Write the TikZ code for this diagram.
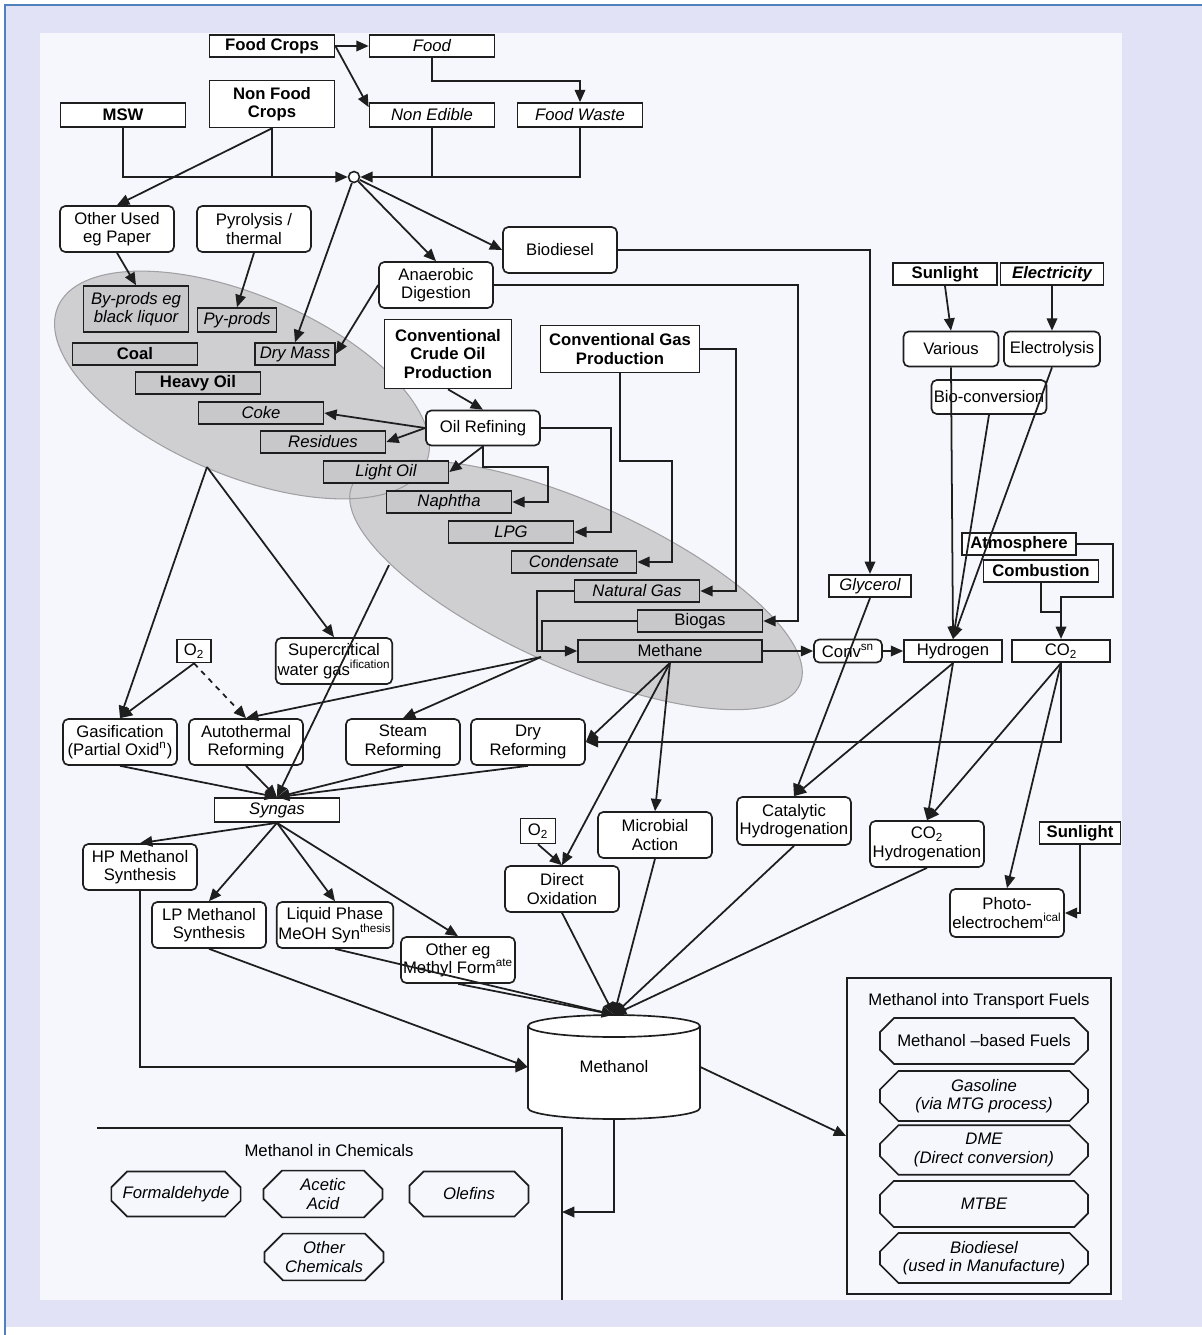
\documentclass[tikz,border=0pt]{standalone}
\usepackage{fontspec}
\setmainfont{Liberation Sans}
\usepackage{tikz}
\usetikzlibrary{arrows.meta, shapes.misc, calc}
\definecolor{framelav}{RGB}{226,226,246}
\definecolor{frameblue}{RGB}{79,129,189}
\definecolor{panelbg}{RGB}{246,247,252}
\definecolor{ellgray}{RGB}{207,207,209}
\definecolor{ellline}{RGB}{160,160,162}
\definecolor{stockgray}{RGB}{200,200,202}
\definecolor{inkgray}{RGB}{30,30,30}
\newcommand{\diafont}{\fontsize{9.5}{10.6}\selectfont}

\tikzset{
  diabox/.style={draw=inkgray, line width=0.95pt, inner sep=1pt, align=center, font=\diafont},
  feedbox/.style={diabox, rectangle, fill=white, minimum width=2.5cm, minimum height=0.45cm},
  stockbox/.style={diabox, rectangle, fill=stockgray, minimum width=2.5cm, minimum height=0.44cm},
  procbox/.style={diabox, rounded corners=3pt, fill=white, minimum width=2.28cm, minimum height=0.92cm},
  prodbox/.style={diabox, chamfered rectangle, chamfered rectangle xsep=7pt, fill=panelbg, minimum height=0.92cm},
  flow/.style={draw=inkgray, line width=1pt, -{Triangle[length=7pt,width=6pt]}},
  link/.style={draw=inkgray, line width=1pt},
}

\begin{document}
\begin{tikzpicture}[x=0.02cm, y=-0.02cm]
    \useasboundingbox (0,0) rectangle (1202,1335);

    % Frame
    \fill[framelav] (5,5) rectangle (1202,1327);
    \draw[frameblue, line width=1pt] (5,1335) -- (5,5) -- (1202,5);
    \fill[panelbg] (40,33) rectangle (1122,1300);

    % Carbon pools
    \fill[ellgray, rotate around={-23:(242,385)}] (242,385) ellipse [x radius=200, y radius=90];
    \fill[ellgray, rotate around={-24:(576,585)}] (576,585) ellipse [x radius=245, y radius=82];
    \draw[ellline, line width=0.6pt, rotate around={-23:(242,385)}] (242,385) ellipse [x radius=200, y radius=90];
    \draw[ellline, line width=0.6pt, rotate around={-24:(576,585)}] (576,585) ellipse [x radius=245, y radius=82];
    \coordinate (poolone) at (207,467);
    \coordinate (pooltwoa) at (389,565);
    \coordinate (pooltwob) at (541,657);

    % Sources
    \node[feedbox, font=\diafont\bfseries] (fcrops) at (272,46) {Food Crops};
    \node[feedbox, font=\diafont\itshape] (food) at (432,46) {Food};
    \node[feedbox, font=\diafont\bfseries, minimum height=0.94cm] (nfcrops) at (272,104) {Non Food\\Crops};
    \node[feedbox, font=\diafont\bfseries, minimum height=0.48cm] (msw) at (123,115) {MSW};
    \node[feedbox, font=\diafont\itshape, minimum height=0.48cm] (nonedible) at (432,115) {Non Edible};
    \node[feedbox, font=\diafont\itshape, minimum height=0.48cm] (foodwaste) at (580,115) {Food Waste};
    \node[circle, draw=inkgray, line width=0.9pt, fill=white, inner sep=0pt, minimum size=0.22cm] (hub) at (354,177) {};

    % First conversion
    \node[procbox] (otherused) at (117,229) {Other Used\\eg Paper};
    \node[procbox] (pyro) at (254,229) {Pyrolysis /\\thermal};
    \node[procbox] (biodiesel) at (560,250) {Biodiesel};
    \node[procbox] (anaerobic) at (436,285) {Anaerobic\\Digestion};

    % Carbon stocks
    \node[stockbox, font=\diafont\itshape, minimum width=2.1cm, minimum height=0.92cm] (byprods) at (136,309) {By-prods eg\\black liquor};
    \node[stockbox, font=\diafont\itshape, minimum width=1.58cm, minimum height=0.48cm] (pyprods) at (237,320) {Py-prods};
    \node[stockbox, font=\diafont\bfseries] (coal) at (135,354) {Coal};
    \node[stockbox, font=\diafont\itshape, minimum width=1.6cm] (drymass) at (295,354) {Dry Mass};
    \node[stockbox, font=\diafont\bfseries] (heavyoil) at (198,383) {Heavy Oil};
    \node[stockbox, font=\diafont\itshape] (coke) at (261,413) {Coke};
    \node[stockbox, font=\diafont\itshape] (residues) at (323,442) {Residues};
    \node[stockbox, font=\diafont\itshape] (lightoil) at (386,472) {Light Oil};
    \node[stockbox, font=\diafont\itshape] (naphtha) at (449,502) {Naphtha};
    \node[stockbox, font=\diafont\itshape] (lpg) at (511,532) {LPG};
    \node[stockbox, font=\diafont\itshape] (condensate) at (574,562) {Condensate};
    \node[stockbox, font=\diafont\itshape] (natgas) at (637,591) {Natural Gas};
    \node[stockbox] (biogas) at (700,621) {Biogas};
    \node[stockbox, minimum width=3.68cm] (methane) at (670,651) {Methane};

    % Fossil production
    \node[feedbox, font=\diafont\bfseries, minimum width=2.54cm, minimum height=1.38cm] (ccop) at (448,354) {Conventional\\Crude Oil\\Production};
    \node[procbox, minimum height=0.7cm] (oilref) at (483,428) {Oil Refining};
    \node[feedbox, font=\diafont\bfseries, minimum width=3.18cm, minimum height=0.94cm] (cgp) at (620,349) {Conventional Gas\\Production};

    % Hydrogen and CO2
    \node[feedbox, font=\diafont\itshape, minimum width=1.64cm] (glycerol) at (870,586) {Glycerol};
    \node[procbox, minimum width=1.36cm, minimum height=0.46cm] (conv) at (848,651) {Conv\textsuperscript{sn}};
    \node[feedbox, minimum width=1.96cm] (hydrogen) at (953,651) {Hydrogen};
    \node[feedbox, minimum width=1.96cm] (co2) at (1061,651) {CO\textsubscript{2}};
    \node[feedbox, font=\diafont\bfseries, minimum width=2.08cm] (sunlight) at (945,274) {Sunlight};
    \node[feedbox, font=\diafont\bfseries\itshape, minimum width=2.06cm] (electricity) at (1052,274) {Electricity};
    \node[procbox, minimum width=1.9cm, minimum height=0.7cm] (various) at (951,349) {Various};
    \node[procbox, minimum width=1.92cm, minimum height=0.7cm] (electrolysis) at (1052,349) {Electrolysis};
    \node[procbox, minimum width=2.3cm, minimum height=0.68cm] (bioconv) at (989,397) {Bio-conversion};
    \node[feedbox, font=\diafont\bfseries, minimum width=2.28cm] (atmos) at (1019,544) {Atmosphere};
    \node[feedbox, font=\diafont\bfseries, minimum width=2.3cm] (combust) at (1041,571) {Combustion};

    % Syngas routes
    \node[feedbox, minimum width=0.68cm, minimum height=0.46cm] (oone) at (194,651) {O\textsubscript{2}};
    \node[procbox] (supercrit) at (334,661) {Supercritical\\water gas\textsuperscript{ification}};
    \node[procbox] (gasif) at (120,742) {Gasification\\(Partial Oxid\textsuperscript{n})};
    \node[procbox] (autoth) at (246,742) {Autothermal\\Reforming};
    \node[procbox] (steam) at (403,742) {Steam\\Reforming};
    \node[procbox] (dry) at (528,742) {Dry\\Reforming};
    \node[feedbox, font=\diafont\itshape, minimum height=0.48cm] (syngas) at (277,810) {Syngas};
    \node[procbox] (hpms) at (140,867) {HP Methanol\\Synthesis};
    \node[procbox] (lpms) at (209,925) {LP Methanol\\Synthesis};
    \node[procbox] (liqph) at (335,925) {Liquid Phase\\MeOH Syn\textsuperscript{thesis}};
    \node[procbox] (othereg) at (458,960) {Other eg\\Methyl Form\textsuperscript{ate}};

    % Direct routes
    \node[feedbox, minimum width=0.7cm, minimum height=0.5cm] (otwo) at (538,831) {O\textsubscript{2}};
    \node[procbox] (directox) at (562,889) {Direct\\Oxidation};
    \node[procbox] (microbial) at (655,835) {Microbial\\Action};
    \node[procbox, minimum height=0.96cm] (catalytic) at (794,821) {Catalytic\\Hydrogenation};
    \node[procbox] (co2hyd) at (927,844) {CO\textsubscript{2}\\Hydrogenation};
    \node[feedbox, font=\diafont\bfseries, minimum width=1.62cm] (sunlighttwo) at (1080,833) {Sunlight};
    \node[procbox, minimum height=0.96cm] (photo) at (1007,913) {Photo-\\electrochem\textsuperscript{ical}};

    % Methanol
    \draw[line width=0.95pt, draw=inkgray, fill=white] (528,1026) -- (528,1108) arc[start angle=180, end angle=0, x radius=86, y radius=11] -- (700,1026);
    \draw[line width=0.95pt, draw=inkgray, fill=white] (614,1026) ellipse [x radius=86, y radius=11];
    \node[font=\diafont, minimum width=3.44cm, minimum height=2.08cm, inner sep=0pt] (methanol) at (614,1067) {Methanol};

    % Transport fuels
    \node[draw=inkgray, line width=1pt, minimum width=5.28cm, minimum height=6.32cm] (fuelsbox) at (979,1136) {};
    \node[font=\diafont] (fuelstitle) at (979,1001) {Methanol into Transport Fuels};
    \node[prodbox, minimum width=4.16cm] (mfuels) at (984,1041) {Methanol --based Fuels};
    \node[prodbox, font=\diafont\itshape, minimum width=4.16cm] (gasoline) at (984,1096) {Gasoline\\(via MTG process)};
    \node[prodbox, font=\diafont\itshape, minimum width=4.16cm] (dme) at (984,1150) {DME\\(Direct conversion)};
    \node[prodbox, font=\diafont\itshape, minimum width=4.16cm] (mtbe) at (984,1204) {MTBE};
    \node[prodbox, font=\diafont\itshape, minimum width=4.16cm] (biodsl) at (984,1258) {Biodiesel\\(used in Manufacture)};

    % Chemicals
    \draw[link] (97,1128) -- (562,1128) -- (562,1300);
    \coordinate (chemin) at (562,1212);
    \node[font=\diafont] (chemtitle) at (329,1151) {Methanol in Chemicals};
    \node[prodbox, font=\diafont\itshape, minimum width=2.38cm, minimum height=0.9cm] (formald) at (176,1194) {Formaldehyde};
    \node[prodbox, font=\diafont\itshape, minimum width=2.38cm, minimum height=0.9cm] (acetic) at (323,1194) {Acetic\\Acid};
    \node[prodbox, font=\diafont\itshape, minimum width=2.38cm, minimum height=0.9cm] (olefins) at (469,1194) {Olefins};
    \node[prodbox, font=\diafont\itshape, minimum width=2.38cm, minimum height=0.9cm] (otherchem) at (324,1257) {Other\\Chemicals};

    % Feedstock collection
    \draw[flow] (fcrops) -- (food);
    \draw[flow] (fcrops.east) -- ([yshift=-0.1cm]nonedible.north west);
    \draw[flow] (food.south) -- ++(0,23) -| (foodwaste.north);
    \draw[flow] (msw.south) |- (hub.west);
    \draw[flow] (foodwaste.south) |- (hub.east);
    \draw[link] (nfcrops.south) -- (nfcrops.south |- hub);
    \draw[link] (nonedible.south) -- (nonedible.south |- hub);
    \draw[flow] (nfcrops.south) -- (otherused.north);
    \draw[flow] (hub) -- (anaerobic.north);
    \draw[flow] (hub) -- (biodiesel.west);
    \draw[flow] (hub) -- (drymass.north);

    % Biomass into stocks
    \draw[flow] (otherused.south) -- (byprods.north);
    \draw[flow] (pyro.south) -- (pyprods.north);
    \draw[flow] (anaerobic.west) -- (drymass.east);

    % Refining
    \draw[flow] (ccop.south) -- (oilref.north);
    \draw[flow] (oilref.west) -- (coke.east);
    \draw[flow] (oilref.west) -- (residues.east);
    \draw[flow] (oilref.south) -- (lightoil.east);
    \draw[flow] (oilref.south) -- ++(0,21) -- ++(65,0) |- (naphtha.east);
    \draw[flow] (oilref.east) -- ++(70,0) |- (lpg.east);
    \draw[flow] (cgp.south) -- ++(0,88) -- ++(52,0) |- (condensate.east);
    \draw[flow] (cgp.east) -- ++(36,0) |- (natgas.east);
    \draw[flow] (anaerobic.east) -- ++(304,0) |- (biogas.east);
    \draw[flow] (biodiesel.east) -| (glycerol.north);
    \draw[flow] (natgas.west) -- ++(-37,0) |- (methane.west);
    \draw[link] (biogas.west) -- ++(-95,0) -- ++(0,30);

    % Hydrogen and CO2
    \draw[flow] (methane) -- (conv);
    \draw[flow] (conv) -- (hydrogen);
    \draw[flow] (sunlight.south) -- (various.north);
    \draw[flow] (electricity) -- (electrolysis);
    \draw[flow] (various.south) -- (hydrogen.north);
    \draw[flow] (bioconv.south) -- (hydrogen.north);
    \draw[flow] (electrolysis.south) -- (hydrogen.north);
    \draw[flow] (atmos.east) -- ++(36,0) -- ++(0,53) -| (co2.north);
    \draw[link] (combust.south) -- ++(0,29) -- ++(20,0);

    % To syngas
    \draw[flow] (poolone) -- (gasif.north);
    \draw[flow] (poolone) -- (supercrit.north);
    \draw[flow] (pooltwoa) -- (syngas.north);
    \draw[flow] (pooltwob) -- (autoth.north);
    \draw[flow] (pooltwob) -- (steam.north);
    \draw[flow] (oone.south) -- (gasif.north);
    \draw[flow, dashed] (oone.south) -- (autoth.north);
    \draw[flow] (methane.south) -- (dry.east);
    \draw[flow] (co2.south) |- (dry.east);
    \draw[flow] (gasif.south) -- (syngas.north);
    \draw[flow] (autoth.south) -- (syngas.north);
    \draw[flow] (steam.south) -- (syngas.north);
    \draw[flow] (dry.south) -- (syngas.north);

    % Methane, H2 and CO2 routes
    \draw[flow] (methane.south) -- (directox.north);
    \draw[flow] (methane.south) -- (microbial.north);
    \draw[flow] (otwo.south) -- (directox.north);
    \draw[flow] (glycerol.south) -- (catalytic.north);
    \draw[flow] (hydrogen.south) -- (catalytic.north);
    \draw[flow] (hydrogen.south) -- (co2hyd.north);
    \draw[flow] (co2.south) -- (co2hyd.north);
    \draw[flow] (co2.south) -- (photo.north);
    \draw[flow] (sunlighttwo.south) |- (photo.east);

    % Methanol synthesis
    \draw[flow] (syngas.south) -- (hpms.north);
    \draw[flow] (syngas.south) -- (lpms.north);
    \draw[flow] (syngas.south) -- (liqph.north);
    \draw[flow] (syngas.south) -- (othereg.north);
    \draw[flow] (hpms.south) |- (methanol.west);
    \draw[flow] (lpms.south) -- (methanol.west);
    \draw[flow] (liqph.south) -- (methanol.north);
    \draw[flow] (othereg.south) -- (methanol.north);
    \draw[flow] (directox.south) -- (methanol.north);
    \draw[flow] (microbial.south) -- (methanol.north);
    \draw[flow] (catalytic.south) -- (methanol.north);
    \draw[flow] (co2hyd.south) -- (methanol.north);

    % Uses
    \draw[flow] (methanol.south) |- (chemin);
    \draw[flow] (methanol.east) -- (fuelsbox.west);
\end{tikzpicture}
\end{document}
